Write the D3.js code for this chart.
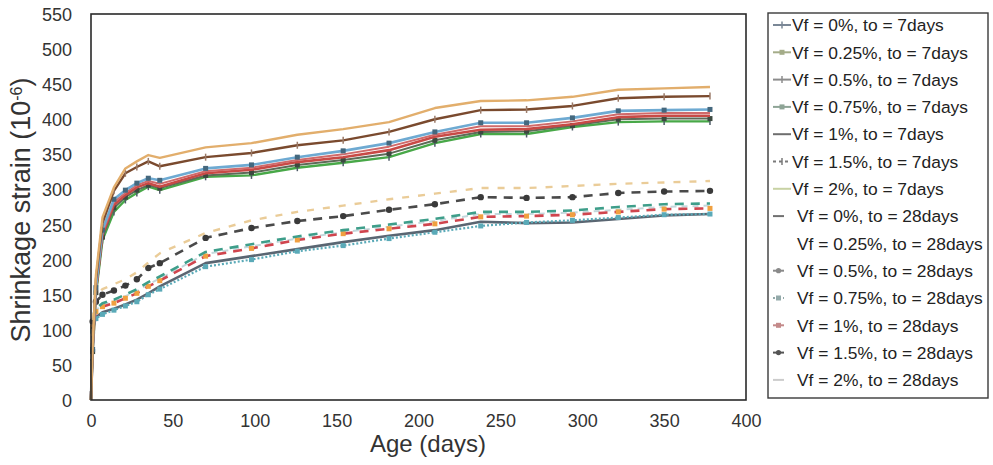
<!DOCTYPE html>
<html>
<head>
<meta charset="utf-8">
<script src="https://cdn.jsdelivr.net/npm/d3@7"></script>
<style>
  html, body { margin: 0; padding: 0; background: #fff; }
  svg { display: block; font-family: "Liberation Sans", Arial, sans-serif; }
</style>
</head>
<body>
<svg id="chart" width="993" height="465"></svg>
<script>
// ---------------- DATA ----------------
const days = [0, 1, 3, 7, 14, 21, 28, 35, 42, 70, 98, 126, 154, 182, 210, 238, 266, 294, 322, 350, 378];

// to = 7 days
const vf0_7   = [0, 68, 150, 228, 268, 285, 295, 304, 299, 318, 320, 331, 338, 346, 366, 379, 379, 389, 396, 397, 397];
const vf025_7 = [0, 69, 153, 232, 274, 289, 299, 306, 302, 320, 324, 335, 342, 351, 370, 382, 383, 391, 400, 401, 401];
const vf05_7  = [0, 71, 157, 238, 282, 295, 306, 312, 308, 326, 331, 342, 350, 361, 378, 390, 390, 397, 407, 409, 409];
const vf075_7 = [0, 72, 160, 242, 286, 299, 309, 316, 313, 330, 335, 346, 355, 366, 382, 395, 395, 402, 412, 413, 414];
const vf1_7   = [0, 70, 155, 236, 278, 292, 303, 309, 304, 323, 328, 339, 346, 356, 375, 385, 386, 393, 403, 405, 405];
const vf15_7  = [0, 76, 172, 252, 298, 323, 332, 340, 333, 346, 352, 363, 370, 382, 400, 413, 414, 419, 430, 432, 433];
const vf2_7   = [0, 78, 178, 260, 303, 330, 340, 349, 345, 360, 366, 378, 386, 396, 416, 426, 427, 432, 442, 444, 446];

// to = 28 days
const vf0_28   = [0, 100, 118, 125, 130, 136, 143, 152, 162, 195, 205, 215, 225, 234, 242, 254, 252, 253, 258, 263, 265];
const vf025_28 = [0, 106, 128, 136, 141, 148, 155, 165, 173, 208, 219, 230, 239, 247, 255, 265, 265, 267, 271, 275, 277];
const vf05_28  = [0, 108, 130, 138, 143, 150, 158, 168, 176, 211, 222, 233, 242, 250, 258, 268, 268, 270, 275, 279, 280];
const vf075_28 = [0, 98, 116, 122, 128, 134, 140, 150, 158, 190, 200, 212, 220, 230, 239, 248, 253, 256, 260, 264, 265];
const vf1_28   = [0, 104, 126, 133, 138, 145, 152, 162, 170, 205, 216, 228, 237, 244, 251, 261, 262, 264, 268, 272, 273];
const vf15_28  = [0, 112, 140, 150, 156, 163, 172, 188, 195, 231, 245, 255, 262, 271, 279, 289, 288, 289, 295, 297, 298];
const vf2_28   = [0, 118, 148, 158, 165, 172, 182, 196, 209, 238, 256, 268, 277, 286, 294, 302, 302, 305, 308, 310, 312];

const seriesLabels = [
  "Vf = 0%, to = 7days", "Vf = 0.25%, to = 7days", "Vf = 0.5%, to = 7days",
  "Vf = 0.75%, to = 7days", "Vf = 1%, to = 7days", "Vf = 1.5%, to = 7days",
  "Vf = 2%, to = 7days",
  "Vf = 0%, to = 28days", "Vf = 0.25%, to = 28days", "Vf = 0.5%, to = 28days",
  "Vf = 0.75%, to = 28days", "Vf = 1%, to = 28days", "Vf = 1.5%, to = 28days",
  "Vf = 2%, to = 28days"
];
const seriesValues = [vf0_7, vf025_7, vf05_7, vf075_7, vf1_7, vf15_7, vf2_7,
                      vf0_28, vf025_28, vf05_28, vf075_28, vf1_28, vf15_28, vf2_28];

const xTicks = [0, 50, 100, 150, 200, 250, 300, 350, 400];
const yTicks = [0, 50, 100, 150, 200, 250, 300, 350, 400, 450, 500, 550];

// ---------------- STYLES ----------------
const styles = [
  { color: "#48a848", dash: null, w: 2.4, marker: "cross", mColor: "#4d5a66" },
  { color: "#5d6b58", dash: null, w: 2.0, marker: "square", mColor: "#3c4a40" },
  { color: "#d06a6a", dash: null, w: 2.0, marker: null },
  { color: "#6eaad2", dash: null, w: 2.6, marker: "square", mColor: "#44687e" },
  { color: "#c84a46", dash: null, w: 2.6, marker: null },
  { color: "#7a4a2e", dash: null, w: 2.4, marker: "cross", mColor: "#9a7a68" },
  { color: "#e2ae6c", dash: null, w: 2.4, marker: null },
  { color: "#5a6672", dash: null, w: 2.6, marker: null },
  { color: "#c4d8dc", dash: "6,5", w: 2.0, marker: null },
  { color: "#3e9e8a", dash: "9,7", w: 2.6, marker: null },
  { color: "#5aaab8", dash: "2,2", w: 2.2, marker: "square", mColor: "#5aaab8" },
  { color: "#d0454e", dash: "9,7", w: 2.6, marker: "square", mColor: "#f0a040" },
  { color: "#4a4a4a", dash: "9,7", w: 2.6, marker: "circle", mColor: "#3a3a3a" },
  { color: "#eacc98", dash: "7,9", w: 2.4, marker: null }
];
const legendColors = ["#7a8796", "#a4ac88", "#8c8c8c", "#8ea496", "#6e6e6e", "#7a7a7a", "#c8d2a4",
                      "#707070", "#ffffff", "#8a8a8a", "#94aaaa", "#c48a8a", "#555555", "#cccccc"];

// ---------------- LAYOUT ----------------
const svg = d3.select("#chart");
const plot = { left: 91, right: 746, top: 14, bottom: 400 };

const x = d3.scaleLinear().domain([0, 400]).range([plot.left, plot.right]);
const y = d3.scaleLinear().domain([0, 550]).range([plot.bottom, plot.top]);

// y tick labels
const yAxis = d3.axisLeft(y).tickValues(yTicks).tickSize(0).tickPadding(19).tickFormat(d3.format("d"));
const gy = svg.append("g").attr("transform", `translate(${plot.left},0)`).call(yAxis);
gy.select(".domain").remove();
gy.selectAll("text").attr("font-size", 18).attr("fill", "#333").attr("dy", "0.36em")
  .style("font-family", "'Liberation Sans', Arial, sans-serif");

// x tick labels
const xAxis = d3.axisBottom(x).tickValues(xTicks).tickSize(0).tickPadding(14).tickFormat(d3.format("d"));
const gx = svg.append("g").attr("transform", `translate(0,${plot.bottom})`).call(xAxis);
gx.select(".domain").remove();
gx.selectAll("text").attr("font-size", 18).attr("fill", "#333")
  .style("font-family", "'Liberation Sans', Arial, sans-serif");

// axis titles
svg.append("text").attr("x", 428).attr("y", 452).attr("text-anchor", "middle")
  .attr("font-size", 24).attr("fill", "#333").text("Age (days)");

const yt = svg.append("text").attr("transform", "translate(30,210) rotate(-90)")
  .attr("text-anchor", "middle").attr("font-size", 27).attr("fill", "#333");
yt.append("tspan").text("Shrinkage strain (10");
yt.append("tspan").attr("font-size", 16).attr("baseline-shift", "super").text("-6");
yt.append("tspan").text(")");

// series
const line = d3.line().x((d, i) => x(days[i])).y(d => y(d));
const order = [8, 7, 10, 11, 9, 12, 13, 0, 1, 4, 2, 3, 5, 6];
order.forEach(si => {
  const st = styles[si];
  const vals = seriesValues[si];
  const g = svg.append("g");
  g.append("path").datum(vals).attr("d", line).attr("fill", "none")
    .attr("stroke", st.color).attr("stroke-width", st.w)
    .attr("stroke-dasharray", st.dash).attr("stroke-linejoin", "round");
  if (st.marker) {
    const pts = vals.map((v, i) => [x(days[i]), y(v)]).filter((p, i) => i > 0);
    if (st.marker === "square") {
      g.selectAll("rect").data(pts).join("rect")
        .attr("x", p => p[0] - 2.5).attr("y", p => p[1] - 2.5).attr("width", 5).attr("height", 5)
        .attr("fill", st.mColor);
    } else if (st.marker === "circle") {
      g.selectAll("circle").data(pts).join("circle")
        .attr("cx", p => p[0]).attr("cy", p => p[1]).attr("r", 3.2).attr("fill", st.mColor);
    } else if (st.marker === "cross") {
      g.selectAll("path.m").data(pts).join("path").attr("class", "m")
        .attr("d", p => `M${p[0]},${p[1] - 3.5}V${p[1] + 3.5}`)
        .attr("stroke", st.mColor).attr("stroke-width", 1.5);
    }
  }
});

// plot frame
svg.append("rect").attr("x", plot.left).attr("y", plot.top)
  .attr("width", plot.right - plot.left).attr("height", plot.bottom - plot.top)
  .attr("fill", "none").attr("stroke", "#2a2a2a").attr("stroke-width", 1.6);

// legend
const leg = { x: 768, y: 13, w: 220, h: 385, first: 25, step: 27.3 };
svg.append("rect").attr("x", leg.x).attr("y", leg.y).attr("width", leg.w).attr("height", leg.h)
  .attr("fill", "#fff").attr("stroke", "#3a3a3a").attr("stroke-width", 1.4);

seriesLabels.forEach((lab, i) => {
  const cy = leg.first + i * leg.step;
  const c = legendColors[i];
  const st = styles[i];
  const is7 = i < 7;
  const g = svg.append("g");
  const x0 = 773, x1 = is7 ? 791 : 784;
  if (i !== 8) {
    g.append("line").attr("x1", x0).attr("x2", x1).attr("y1", cy).attr("y2", cy)
      .attr("stroke", c).attr("stroke-width", 2)
      .attr("stroke-dasharray", (i === 5) ? "3,3" : (i === 10 ? "2,3" : null));
    const mx = (x0 + x1) / 2;
    if (st.marker === "square" || i === 10) {
      g.append("rect").attr("x", mx - 2.5).attr("y", cy - 2.5).attr("width", 5).attr("height", 5).attr("fill", c);
    } else if (st.marker === "circle" || i === 9 || i === 3) {
      g.append("circle").attr("cx", mx).attr("cy", cy).attr("r", 2.6).attr("fill", c);
    } else if (st.marker === "cross" || i === 2) {
      g.append("path").attr("d", `M${mx},${cy - 3.5}V${cy + 3.5}`).attr("stroke", c).attr("stroke-width", 1.5);
    }
  }
  g.append("text").attr("x", is7 ? 792 : 797).attr("y", cy).attr("dy", "0.36em")
    .attr("font-size", 17.4).attr("fill", "#222").text(lab);
});
</script>
</body>
</html>
